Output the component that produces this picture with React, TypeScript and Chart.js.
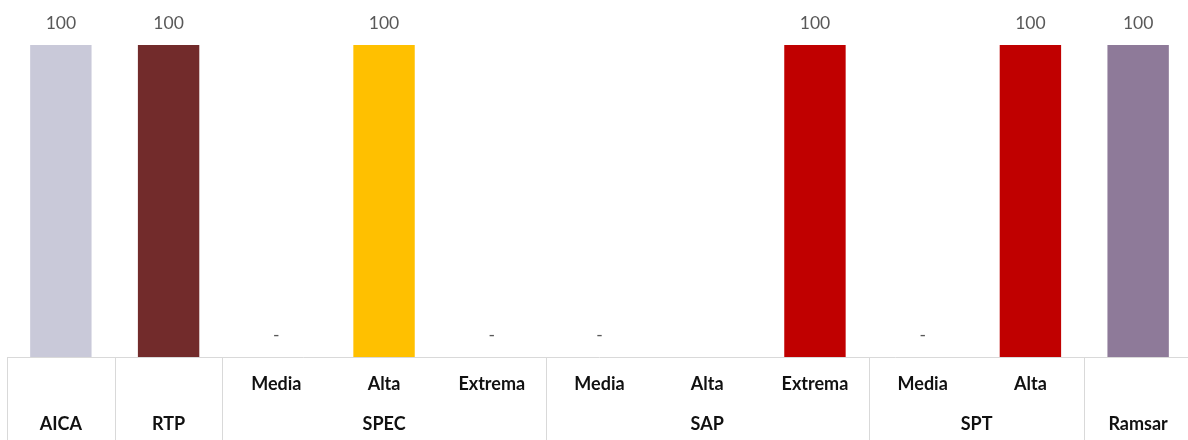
import React, { useEffect, useRef } from "react";
import { Chart, registerables } from "chart.js";

Chart.register(...registerables);

const subLabels = ["", "", "Media", "Alta", "Extrema", "Media", "Alta", "Extrema", "Media", "Alta", ""];
const groupLabels = ["AICA", "RTP", "SPEC", "SPEC", "SPEC", "SAP", "SAP", "SAP", "SPT", "SPT", "Ramsar"];
const values: (number | null)[] = [100, 100, 0, 100, 0, 0, null, 100, 0, 100, 100];
const barColors = [
  "#C9C9D9",
  "#722B2B",
  "#FFC000",
  "#FFC000",
  "#FFC000",
  "#C00000",
  "#C00000",
  "#C00000",
  "#C00000",
  "#C00000",
  "#8E7A99",
];

const FONT = "Lato, 'Open Sans', sans-serif";
const LINE = "#D9D9D9";

const drawPlugin = {
  id: "customDraw",
  afterDatasetsDraw(chart: any) {
    const { ctx, chartArea, scales } = chart;
    const x = scales.x;
    const y = scales.y;
    const n = groupLabels.length;
    const step = x.getPixelForValue(1) - x.getPixelForValue(0);
    const bottom = chart.height;
    ctx.save();

    // value labels
    ctx.font = `17.5px ${FONT}`;
    ctx.fillStyle = "#595959";
    ctx.textAlign = "center";
    ctx.textBaseline = "middle";
    values.forEach((v, i) => {
      if (v === null) return;
      const px = x.getPixelForValue(i);
      const py = y.getPixelForValue(v);
      ctx.fillText(v === 0 ? "-" : String(v), px, py - 22);
    });

    // axis line
    ctx.strokeStyle = LINE;
    ctx.lineWidth = 1;
    ctx.beginPath();
    ctx.moveTo(chartArea.left, chartArea.bottom + 0.5);
    ctx.lineTo(chartArea.right, chartArea.bottom + 0.5);
    ctx.stroke();

    // group separators
    const boundaries: number[] = [0];
    for (let i = 1; i < n; i++) {
      if (groupLabels[i] !== groupLabels[i - 1]) boundaries.push(i);
    }
    boundaries.push(n);
    ctx.beginPath();
    boundaries.forEach((b) => {
      const bx = Math.round(x.getPixelForValue(b) - step / 2) + 0.5;
      ctx.moveTo(bx, chartArea.bottom);
      ctx.lineTo(bx, bottom);
    });
    ctx.stroke();

    // sub labels
    ctx.fillStyle = "#111111";
    ctx.font = `bold 18px ${FONT}`;
    ctx.textBaseline = "middle";
    subLabels.forEach((s, i) => {
      if (!s) return;
      ctx.fillText(s, x.getPixelForValue(i), chartArea.bottom + 27);
    });

    // group labels
    for (let k = 0; k < boundaries.length - 1; k++) {
      const a = boundaries[k];
      const b = boundaries[k + 1] - 1;
      const cx = (x.getPixelForValue(a) + x.getPixelForValue(b)) / 2;
      ctx.fillText(groupLabels[a], cx, chartArea.bottom + 67);
    }
    ctx.restore();
  },
};

export default function App() {
  const ref = useRef<HTMLCanvasElement | null>(null);

  useEffect(() => {
    if (!ref.current) return;
    const chart = new Chart(ref.current, {
      type: "bar",
      data: {
        labels: groupLabels.map((g, i) => (subLabels[i] ? `${subLabels[i]} ${g}` : g)),
        datasets: [
          {
            data: values as any,
            backgroundColor: barColors,
            categoryPercentage: 1,
            barPercentage: 0.57,
          },
        ],
      },
      options: {
        animation: false,
        responsive: true,
        maintainAspectRatio: false,
        layout: { padding: { left: 7, right: 0, top: 45, bottom: 83 } },
        plugins: { legend: { display: false }, tooltip: { enabled: false } },
        scales: {
          x: { display: false, offset: true },
          y: { display: false, min: 0, max: 100 },
        },
      },
      plugins: [drawPlugin],
    });
    return () => chart.destroy();
  }, []);

  return (
    <div style={{ position: "fixed", left: 0, top: 0, width: 1188, height: 440, overflow: "hidden", background: "#fff" }}>
      <div style={{ position: "absolute", left: 0, top: 0, width: 1192, height: 440 }}>
        <canvas ref={ref} />
      </div>
    </div>
  );
}
